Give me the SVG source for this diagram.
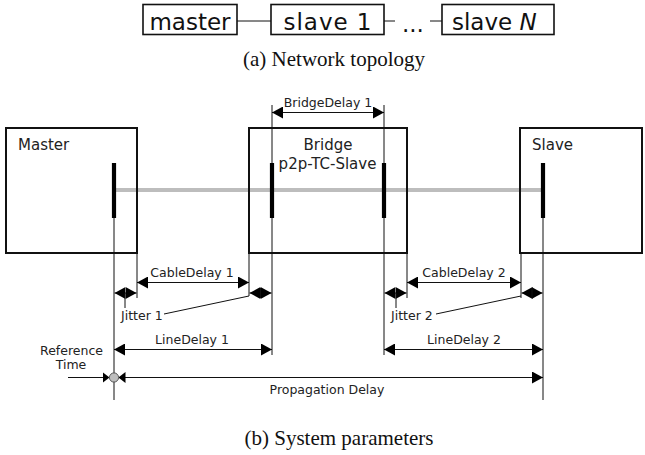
<svg xmlns="http://www.w3.org/2000/svg" width="645" height="455" viewBox="0 0 645 455">
<style>
.bx{fill:none;stroke:#111;stroke-width:2}
.tb{fill:none;stroke:#111;stroke-width:1.6}
.ln{stroke:#111;stroke-width:1;fill:none}
.bar{stroke:#000;stroke-width:4.2}
.top{font-family:"DejaVu Sans",sans-serif;font-size:23px;fill:#111}
.lab{font-family:"DejaVu Sans",sans-serif;font-size:15px;fill:#222}
.sm{font-family:"DejaVu Sans",sans-serif;font-size:12.5px;fill:#222}
.cap{font-family:"Liberation Serif",serif;font-size:21px;fill:#111}
</style>
<defs>
<marker id="ah" markerUnits="userSpaceOnUse" viewBox="0 0 11 12" markerWidth="11" markerHeight="12" refX="11" refY="6" orient="auto-start-reverse"><path d="M0,0 L11,6 L0,12 z" fill="#000"/></marker>
<marker id="as" markerUnits="userSpaceOnUse" viewBox="0 0 7 11" markerWidth="7" markerHeight="11" refX="7" refY="5.5" orient="auto-start-reverse"><path d="M0,0 L7,5.5 L0,11 z" fill="#000"/></marker>
</defs>

<!-- (a) Network topology -->
<g id="top-links">
<line class="ln" x1="237" y1="21" x2="271" y2="21" stroke-width="1.4"/>
<line class="ln" x1="384" y1="21" x2="395" y2="21" stroke-width="1.4"/>
<line class="ln" x1="430" y1="21" x2="442" y2="21" stroke-width="1.4"/>
</g>
<g id="top-master"><rect class="tb" x="143" y="4.5" width="94" height="30"/><text class="top" x="190" y="30" text-anchor="middle">master</text></g>
<g id="top-slave1"><rect class="tb" x="271" y="4.5" width="113" height="30"/><text class="top" x="327.5" y="30" text-anchor="middle" textLength="88">slave 1</text></g>
<g id="top-dots"><text class="top" x="402" y="32">...</text></g>
<g id="top-slaveN"><rect class="tb" x="442" y="4.5" width="112" height="30"/><text class="top" x="452" y="30">slave <tspan font-style="italic">N</tspan></text></g>
<text class="cap" x="334" y="66" text-anchor="middle">(a) Network topology</text>

<!-- (b) System parameters -->
<line x1="116" y1="190" x2="541" y2="190" stroke="#bdbdbd" stroke-width="4"/>

<g id="master"><rect class="bx" x="6" y="128" width="131" height="125"/><text class="lab" x="18" y="150">Master</text><line class="bar" x1="114" y1="163" x2="114" y2="218"/></g>
<g id="bridge"><rect class="bx" x="249" y="128" width="158" height="125"/><text class="lab" x="328" y="150" text-anchor="middle">Bridge</text><text class="lab" x="327.5" y="169" text-anchor="middle">p2p-TC-Slave</text><line class="bar" x1="272" y1="163" x2="272" y2="218"/><line class="bar" x1="384" y1="163" x2="384" y2="218"/></g>
<g id="slave"><rect class="bx" x="520" y="128" width="122" height="125"/><text class="lab" x="532" y="150">Slave</text><line class="bar" x1="543" y1="163" x2="543" y2="218"/></g>

<g id="connectors">
<line class="ln" x1="272" y1="105" x2="272" y2="163"/>
<line class="ln" x1="384" y1="105" x2="384" y2="163"/>
<line class="ln" x1="114" y1="218" x2="114" y2="400"/>
<line class="ln" x1="137" y1="253" x2="137" y2="298"/>
<line class="ln" x1="249" y1="253" x2="249" y2="296"/>
<line class="ln" x1="272" y1="218" x2="272" y2="355"/>
<line class="ln" x1="384" y1="218" x2="384" y2="355"/>
<line class="ln" x1="407" y1="253" x2="407" y2="298"/>
<line class="ln" x1="521" y1="253" x2="521" y2="298"/>
<line class="ln" x1="543" y1="218" x2="543" y2="400"/>
<line class="ln" x1="272" y1="112.5" x2="384" y2="112.5" marker-start="url(#ah)" marker-end="url(#ah)"/>
<line class="ln" x1="137" y1="282.5" x2="249" y2="282.5" marker-start="url(#ah)" marker-end="url(#ah)"/>
<line class="ln" x1="407" y1="282.5" x2="521" y2="282.5" marker-start="url(#ah)" marker-end="url(#ah)"/>
<line class="ln" x1="114.5" y1="293" x2="136.5" y2="293" marker-start="url(#ah)" marker-end="url(#ah)"/>
<line class="ln" x1="249.5" y1="293" x2="271.5" y2="293" marker-start="url(#ah)" marker-end="url(#ah)"/>
<line class="ln" x1="384.5" y1="293" x2="406.5" y2="293" marker-start="url(#ah)" marker-end="url(#ah)"/>
<line class="ln" x1="521.5" y1="293" x2="542.5" y2="293" marker-start="url(#ah)" marker-end="url(#ah)"/>
<line class="ln" x1="125" y1="293" x2="125" y2="308"/>
<line class="ln" x1="396" y1="293" x2="396" y2="308"/>
<line class="ln" x1="260.5" y1="288" x2="260.5" y2="298"/>
<line class="ln" x1="532" y1="288" x2="532" y2="298"/>
<line class="ln" x1="164" y1="314" x2="249" y2="296"/>
<line class="ln" x1="436" y1="314" x2="521" y2="296"/>
<line class="ln" x1="114" y1="349.5" x2="272" y2="349.5" marker-start="url(#ah)" marker-end="url(#ah)"/>
<line class="ln" x1="384" y1="349.5" x2="543" y2="349.5" marker-start="url(#ah)" marker-end="url(#ah)"/>
<line class="ln" x1="68" y1="377.5" x2="109.5" y2="377.5" marker-end="url(#as)"/>
<line class="ln" x1="118.5" y1="377.5" x2="543" y2="377.5" marker-start="url(#as)" marker-end="url(#ah)"/>
<circle cx="114" cy="377.5" r="4.6" fill="#bdbdbd" stroke="#555" stroke-width="1"/>
</g>

<g id="labels">
<text class="sm" x="328" y="107" text-anchor="middle">BridgeDelay 1</text>
<text class="sm" x="192" y="276.5" text-anchor="middle">CableDelay 1</text>
<text class="sm" x="464" y="276.5" text-anchor="middle">CableDelay 2</text>
<text class="sm" x="121" y="320">Jitter 1</text>
<text class="sm" x="391" y="320">Jitter 2</text>
<text class="sm" x="192" y="343.5" text-anchor="middle">LineDelay 1</text>
<text class="sm" x="464" y="343.5" text-anchor="middle">LineDelay 2</text>
<text class="sm" x="71.5" y="355" text-anchor="middle">Reference</text>
<text class="sm" x="71" y="369" text-anchor="middle">Time</text>
<text class="sm" x="327" y="394" text-anchor="middle">Propagation Delay</text>
</g>
<text class="cap" x="339" y="445" text-anchor="middle">(b) System parameters</text>
</svg>
